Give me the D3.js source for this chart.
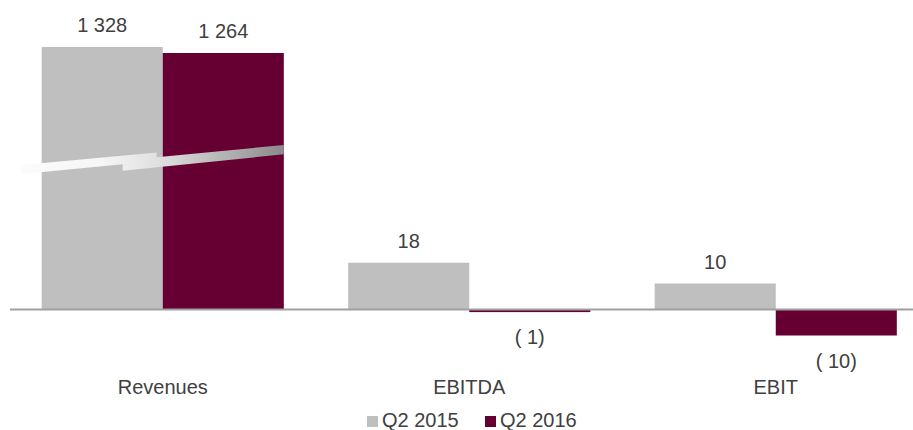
<!DOCTYPE html>
<html>
<head>
<meta charset="utf-8">
<script src="https://cdn.jsdelivr.net/npm/d3@7"></script>
<style>
  html, body { margin: 0; padding: 0; background: #ffffff; }
  svg { display: block; }
  text { font-family: "Liberation Sans", Arial, sans-serif; fill: #404040; }
</style>
</head>
<body>
<svg id="chart" width="913" height="430"></svg>
<script>
// Key figures by metric
const categories = ["Revenues", "EBITDA", "EBIT"];
const seriesNames = ["Q2 2015", "Q2 2016"];
const q2_2015 = [1328, 18, 10];
const q2_2016 = [1264, -1, -10];
const valueLabels2015 = ["1 328", "18", "10"];
const valueLabels2016 = ["1 264", "( 1)", "( 10)"];
const colors = ["#bfbfbf", "#660033"];

const svg = d3.select("#chart");
const W = 913, H = 430;
const FS = 20;

// Category bands; the last band runs past the right edge
const x0 = d3.scaleBand()
  .domain(categories)
  .range([9.5, 929])
  .paddingInner(0.21)
  .paddingOuter(0.105);

const x1 = d3.scaleBand()
  .domain(seriesNames)
  .range([0, x0.bandwidth()])
  .padding(0);

// Broken value axis: small values on a fine scale, revenues compressed above the break
const y = d3.scaleLinear()
  .domain([-15, 0, 60, 1200, 1400])
  .range([348.5, 309.5, 153.5, 59, 40.25]);

const rows = categories.map((c, i) => ({
  cat: c,
  vals: [
    { s: seriesNames[0], v: q2_2015[i], label: valueLabels2015[i] },
    { s: seriesNames[1], v: q2_2016[i], label: valueLabels2016[i] }
  ]
}));

const g = svg.append("g");

const groups = g.selectAll("g.cat")
  .data(rows)
  .join("g")
  .attr("class", "cat")
  .attr("transform", d => `translate(${x0(d.cat)},0)`);

groups.selectAll("rect")
  .data(d => d.vals)
  .join("rect")
  .attr("x", d => x1(d.s))
  .attr("width", x1.bandwidth())
  .attr("y", d => y(Math.max(0, d.v)))
  .attr("height", d => Math.abs(y(d.v) - y(0)))
  .attr("fill", (d, i) => colors[i]);

// Value labels: above positive bars, below negative bars
groups.selectAll("text.val")
  .data(d => d.vals)
  .join("text")
  .attr("class", "val")
  .attr("x", d => x1(d.s) + x1.bandwidth() / 2)
  .attr("y", d => d.v >= 0 ? y(d.v) - 15 : y(d.v) + 32)
  .attr("text-anchor", "middle")
  .attr("font-size", FS)
  .text(d => d.label);

// Zero baseline
g.append("line")
  .attr("x1", 10).attr("x2", W)
  .attr("y1", y(0)).attr("y2", y(0))
  .attr("stroke", "#a0a0a0")
  .attr("stroke-width", 2);

// Axis break across the revenue bars
const defs = svg.append("defs");
const grad = defs.append("linearGradient")
  .attr("id", "breakGrad")
  .attr("gradientUnits", "userSpaceOnUse")
  .attr("x1", 22).attr("x2", 284).attr("y1", 0).attr("y2", 0);
grad.append("stop").attr("offset", 0).attr("stop-color", "#fbfbfb");
grad.append("stop").attr("offset", 0.3).attr("stop-color", "#f6f6f6");
grad.append("stop").attr("offset", 0.55).attr("stop-color", "#dcdcdc");
grad.append("stop").attr("offset", 1).attr("stop-color", "#8a8a8a");

const rx = x0("Revenues");
const rEnd = rx + x0.bandwidth();
const breakPieces = [
  [[rx - 20, 165], [rx + 115, 152.5], [rx + 115, 161], [rx - 20, 174]],
  [[rx + 81, 160.5], [rEnd, 145], [rEnd, 154.3], [rx + 81, 170.7]]
];
g.selectAll("polygon.brk")
  .data(breakPieces)
  .join("polygon")
  .attr("class", "brk")
  .attr("points", d => d.map(p => p.join(",")).join(" "))
  .attr("fill", "url(#breakGrad)");

// Category labels
g.selectAll("text.cat")
  .data(categories)
  .join("text")
  .attr("class", "cat")
  .attr("x", d => x0(d) + x0.bandwidth() / 2)
  .attr("y", 394)
  .attr("text-anchor", "middle")
  .attr("font-size", FS)
  .text(d => d);

// Legend
const legend = svg.append("g").attr("transform", "translate(367,427)");
const legendX = [0, 118];
seriesNames.forEach((s, i) => {
  const lg = legend.append("g").attr("transform", `translate(${legendX[i]},0)`);
  lg.append("rect").attr("x", 0).attr("y", -11).attr("width", 11).attr("height", 11).attr("fill", colors[i]);
  lg.append("text").attr("x", 15).attr("y", 0).attr("font-size", FS).text(s);
});
</script>
</body>
</html>
